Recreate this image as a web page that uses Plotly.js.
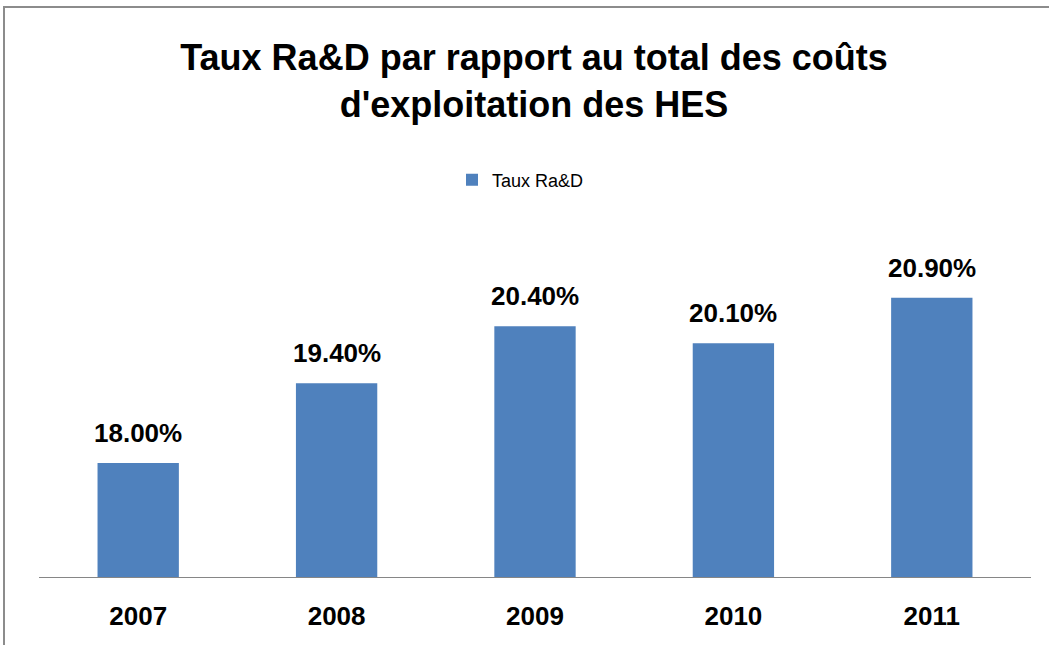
<!DOCTYPE html>
<html lang="fr">
<head>
    <meta charset="UTF-8">
    <title>Taux Ra&amp;D</title>
    <script src="https://cdn.plot.ly/plotly-3.0.1.min.js"></script>
    <style>
        html, body { margin: 0; padding: 0; background: white; overflow: hidden; }
        #chart { width: 1049px; height: 645px; }
        #frame {
            position: absolute; left: 3px; top: 6px; width: 1100px; height: 700px;
            border-top: 2px solid #8c8c8c; border-left: 2px solid #8c8c8c;
            pointer-events: none;
        }
    </style>
</head>
<body>
    <div id="chart"></div>
    <div id="frame"></div>
    <script>
        // données
        const annees = ["2007", "2008", "2009", "2010", "2011"];
        const tauxRaD = [18.0, 19.4, 20.4, 20.1, 20.9];

        const font = "Liberation Sans, Arial, sans-serif";

        const trace = {
            type: "bar",
            name: "Taux Ra&D",
            x: annees,
            y: tauxRaD,
            marker: { color: "#4F81BD" },
            hoverinfo: "x+y"
        };

        // étiquettes de valeurs au-dessus des barres (x = position de catégorie)
        const etiquettes = tauxRaD.map((v, i) => ({
            x: i,
            y: v,
            xref: "x",
            yref: "y",
            text: v.toFixed(2) + "%",
            showarrow: false,
            yanchor: "bottom",
            yshift: 13,
            font: { family: font, size: 26, color: "#000", weight: "bold" }
        }));

        const layout = {
            width: 1049,
            height: 645,
            margin: { l: 39, r: 18, t: 235, b: 68 },
            paper_bgcolor: "white",
            plot_bgcolor: "white",
            bargap: 0.59,
            showlegend: true,
            title: {
                text: "Taux Ra&D par rapport au total des coûts<br>d'exploitation des HES",
                font: { family: font, size: 36, color: "#000", weight: "bold" },
                x: 534 / 1049, xanchor: "center", xref: "container",
                y: 1 - 70 / 645, yref: "container", yanchor: "top"
            },
            legend: {
                orientation: "h",
                x: 452 / 1049, xanchor: "left", xref: "container",
                y: 1 - 180 / 645, yanchor: "middle", yref: "container",
                font: { family: font, size: 18, color: "#000" },
                itemwidth: 30
            },
            annotations: etiquettes,
            xaxis: {
                type: "category",
                showline: true,
                linecolor: "#868686",
                linewidth: 1,
                ticks: "",
                tickfont: { family: font, size: 26, color: "#000", weight: "bold" },
                ticklabelstandoff: 16
            },
            yaxis: {
                range: [16, 22],
                visible: false,
                showgrid: false,
                zeroline: false
            }
        };

        Plotly.newPlot("chart", [trace], layout, { displayModeBar: false });
    </script>
</body>
</html>
